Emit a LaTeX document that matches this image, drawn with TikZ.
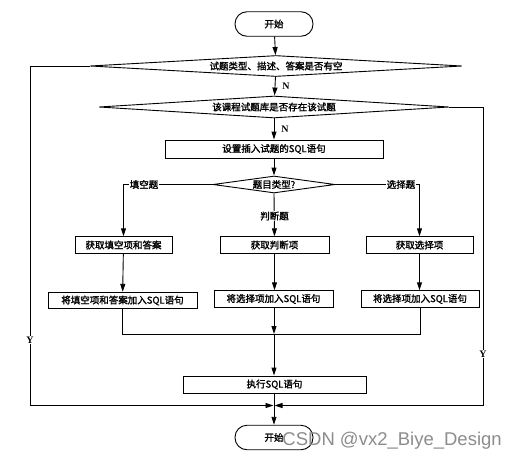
\documentclass[tikz,border=0pt]{standalone}
\usepackage{fontspec}
\setmainfont{Liberation Serif}
\newfontfamily\cjk[FakeBold=1.6]{Noto Sans CJK SC}
\newfontfamily\wmfont{Liberation Sans}
\usetikzlibrary{shapes.geometric,arrows.meta,calc}
\definecolor{wm}{RGB}{140,140,140}
\begin{document}
\begin{tikzpicture}[x=1pt,y=-1pt,
  every path/.style={line width=0.9pt},
  txt/.style={font=\cjk\fontsize{9.5}{10}\selectfont},
  box/.style={draw, rectangle, inner sep=0pt, minimum height=16.5pt, txt},
  term/.style={draw, rectangle, rounded corners=12pt, inner sep=0pt, minimum width=78pt, minimum height=24.5pt, txt},
  dia/.style={draw, diamond, inner sep=0pt, txt},
  lbl/.style={fill=white, inner sep=1pt, txt},
  yn/.style={fill=white, inner sep=1pt, font=\bfseries\fontsize{10}{10}\selectfont},
  arr/.style={-{Triangle[length=8pt,width=5pt]}}
]
\useasboundingbox (0,0) rectangle (513,461);

\node[term] (start) at (274,24) {开始};
\node[dia, minimum width=372pt, minimum height=21pt, aspect=17.7] (d1) at (276,66) {试题类型、描述、答案是否有空};
\node[dia, minimum width=350pt, minimum height=22pt, aspect=15.9] (d2) at (274,107) {该课程试题库是否存在该试题};
\node[box, minimum width=218pt, minimum height=18pt] (b1) at (274,149) {设置插入试题的SQL语句};
\node[dia, minimum width=122pt, minimum height=17pt, aspect=7.2] (d3) at (274,184.5) {题目类型?};

\node[box, minimum width=97pt] (l1) at (123.5,245) {获取填空项和答案};
\node[box, minimum width=109pt] (m1) at (274.5,245) {获取判断项};
\node[box, minimum width=107pt] (r1) at (419.5,245) {获取选择项};

\node[box, minimum width=149pt] (l2) at (122.5,300.5) {将填空项和答案加入SQL语句};
\node[box, minimum width=119pt] (m2) at (273.5,299) {将选择项加入SQL语句};
\node[box, minimum width=118pt] (r2) at (420,299) {将选择项加入SQL语句};

\node[box, minimum width=183pt, minimum height=17pt] (ex) at (274.5,384.5) {执行SQL语句};
\node[term] (end) at (274,437.5) {开始};

\coordinate (mg) at (274,334);
\coordinate (jn) at (274,405.5);
\coordinate (lc) at (30,405.5);
\coordinate (rc) at (483,405.5);

% main spine
\draw[arr] (start) -- (d1);
\draw[arr] (d1) -- node[yn, right, fill=none, xshift=6pt] {N} (d2);
\draw[arr] (d2) -- node[yn, right, fill=none, xshift=6pt] {N} (b1);
\draw[arr] (b1) -- (d3);

% branches
\draw[arr] (d3.west) -- (123.5,184.5) -- (l1.north);
\node[lbl] at (144,184.5) {填空题};
\draw[arr] (d3.east) -- (419.5,184.5) -- (r1.north);
\node[lbl] at (401,184.5) {选择题};
\draw[arr] (d3.south) -- (m1.north);
\node[lbl] at (274.5,216) {判断题};

\draw[arr] (l1) -- (l2);
\draw[arr] (m1.south) -- (m1.south |- m2.north);
\draw[arr] (r1.south) -- (r1.south |- r2.north);

% merge
\draw (l2.south) -- (l2.south |- mg) -- (r2.south |- mg) -- (r2.south);
\draw[arr] (m2.south -| mg) -- (mg);
\draw[arr] (mg) -- (ex.north -| mg);

% Y loops
\draw[arr] (d1.west) -- (30,66) -- (lc) -- ($(jn)+(-0.5,0)$);
\node[yn] at (30,340) {Y};
\draw[arr] (d2.east) -- (483,107) -- (rc) -- ($(jn)+(0.5,0)$);
\node[yn] at (483,354) {Y};

\draw[arr] (ex.south -| jn) -- (end.north -| jn);

% watermark
\node[anchor=west, inner sep=0pt, text=wm, font=\wmfont\fontsize{18.5}{19}\selectfont] (wmk) at (282,440.5) {CSDN @vx2\_Biye\_Design};
\end{tikzpicture}
\end{document}
